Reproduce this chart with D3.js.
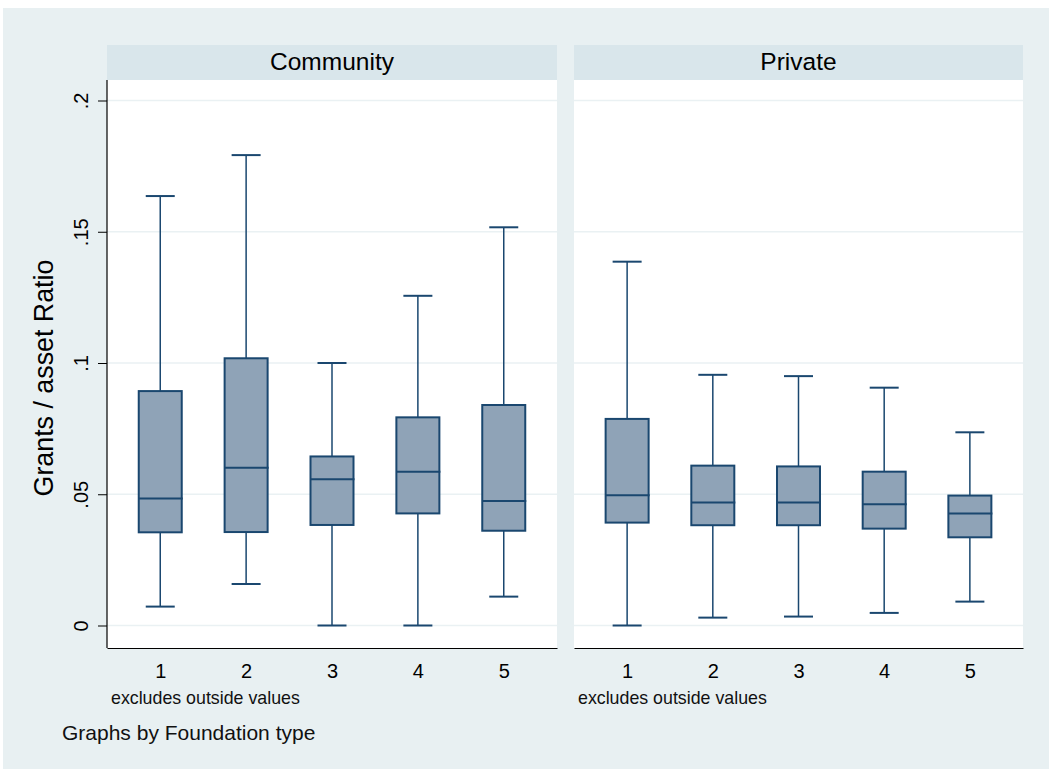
<!DOCTYPE html>
<html>
<head>
<meta charset="UTF-8">
<title>Grants / asset Ratio by Foundation type</title>
<style>
  body { margin: 0; background: #fff; }
  svg { display: block; font-family: "Liberation Sans", Arial, sans-serif; }
</style>
</head>
<body>
<svg id="chart"></svg>
<script src="https://cdn.jsdelivr.net/npm/d3@7"></script>
<script>
// data
const categories = [1, 2, 3, 4, 5];
const panelNames = ["Community", "Private"];
const yTicks = [0, 0.05, 0.1, 0.15, 0.2];
const yTickLabels = ["0", ".05", ".1", ".15", ".2"];

const communityHi = [0.1636, 0.1792, 0.1000, 0.1256, 0.1517];
const communityQ3 = [0.0893, 0.1018, 0.0644, 0.0793, 0.0840];
const communityMed = [0.0484, 0.0601, 0.0557, 0.0586, 0.0474];
const communityQ1 = [0.0355, 0.0356, 0.0383, 0.0427, 0.0361];
const communityLo = [0.0072, 0.0158, 0.0000, 0.0000, 0.0110];

const privateHi = [0.1386, 0.0955, 0.0950, 0.0906, 0.0736];
const privateQ3 = [0.0787, 0.0609, 0.0606, 0.0586, 0.0495];
const privateMed = [0.0496, 0.0469, 0.0469, 0.0462, 0.0427];
const privateQ1 = [0.0392, 0.0382, 0.0382, 0.0369, 0.0336];
const privateLo = [0.0000, 0.0030, 0.0034, 0.0048, 0.0091];

const width = 1049, height = 769;
const navy = "#1a476f", boxFill = "#8fa3b7", gridCol = "#eaf1f3";

const svg = d3.select("#chart").attr("width", width).attr("height", height);

// outer background
svg.append("rect").attr("x", 3).attr("y", 8).attr("width", width - 3).attr("height", height - 8)
  .attr("fill", "#e8f0f2");

const plotTop = 80, plotBottom = 648;
const y = d3.scaleLinear().domain([0, 0.2]).range([625.5, 100.5]);

const panels = [
  { name: panelNames[0], x0: 107, x1: 557, hi: communityHi, q3: communityQ3, med: communityMed, q1: communityQ1, lo: communityLo },
  { name: panelNames[1], x0: 574, x1: 1023, hi: privateHi, q3: privateQ3, med: privateMed, q1: privateQ1, lo: privateLo }
];

const boxW = 43, capW = 29;

panels.forEach((p, pi) => {
  const g = svg.append("g");
  const x = d3.scalePoint().domain(categories).range([p.x0, p.x1]).padding(0.62);

  // header strip
  g.append("rect").attr("x", p.x0).attr("y", 45).attr("width", p.x1 - p.x0).attr("height", 35)
    .attr("fill", "#d9e6eb");
  g.append("text").attr("x", (p.x0 + p.x1) / 2).attr("y", 70).attr("text-anchor", "middle")
    .attr("font-size", 24.5).attr("fill", "#000").text(p.name);

  // plot region
  g.append("rect").attr("x", p.x0).attr("y", plotTop).attr("width", p.x1 - p.x0).attr("height", plotBottom - plotTop)
    .attr("fill", "#fff");

  // grid
  g.append("g").selectAll("line").data(yTicks).join("line")
    .attr("x1", p.x0).attr("x2", p.x1)
    .attr("y1", d => y(d)).attr("y2", d => y(d))
    .attr("stroke", gridCol).attr("stroke-width", 1.5);

  const rows = categories.map((c, i) => ({ c, hi: p.hi[i], q3: p.q3[i], med: p.med[i], q1: p.q1[i], lo: p.lo[i] }));
  const bx = g.append("g").selectAll("g").data(rows).join("g");

  // whiskers
  bx.append("line").attr("x1", d => x(d.c)).attr("x2", d => x(d.c))
    .attr("y1", d => y(d.hi)).attr("y2", d => y(d.q3))
    .attr("stroke", navy).attr("stroke-width", 1.5);
  bx.append("line").attr("x1", d => x(d.c)).attr("x2", d => x(d.c))
    .attr("y1", d => y(d.q1)).attr("y2", d => y(d.lo))
    .attr("stroke", navy).attr("stroke-width", 1.5);
  // caps
  bx.append("line").attr("x1", d => x(d.c) - capW / 2).attr("x2", d => x(d.c) + capW / 2)
    .attr("y1", d => y(d.hi)).attr("y2", d => y(d.hi))
    .attr("stroke", navy).attr("stroke-width", 2);
  bx.append("line").attr("x1", d => x(d.c) - capW / 2).attr("x2", d => x(d.c) + capW / 2)
    .attr("y1", d => y(d.lo)).attr("y2", d => y(d.lo))
    .attr("stroke", navy).attr("stroke-width", 2);
  // box
  bx.append("rect").attr("x", d => x(d.c) - boxW / 2).attr("width", boxW)
    .attr("y", d => y(d.q3)).attr("height", d => y(d.q1) - y(d.q3))
    .attr("fill", boxFill).attr("stroke", navy).attr("stroke-width", 2);
  // median
  bx.append("line").attr("x1", d => x(d.c) - boxW / 2).attr("x2", d => x(d.c) + boxW / 2 + 1)
    .attr("y1", d => y(d.med)).attr("y2", d => y(d.med))
    .attr("stroke", navy).attr("stroke-width", 2);

  // x axis
  const xAxis = g.append("g").attr("transform", `translate(0,${plotBottom})`)
    .call(d3.axisBottom(x).tickSize(0).tickSizeOuter(0));
  xAxis.select(".domain").attr("stroke", "#000").attr("stroke-width", 1.2);
  xAxis.selectAll("text").attr("font-size", 20).attr("fill", "#000")
    .attr("font-family", "Liberation Sans, Arial, sans-serif")
    .attr("dy", null).attr("y", 29.5);

  g.append("text").attr("x", p.x0 + 4).attr("y", 703.5).attr("font-size", 17.8).attr("fill", "#111")
    .text("excludes outside values");

  // y axis only on first panel
  if (pi === 0) {
    const yAxis = g.append("g").attr("transform", `translate(${p.x0},0)`)
      .call(d3.axisLeft(y).tickValues(yTicks).tickSize(9).tickSizeOuter(0)
        .tickFormat((d, i) => yTickLabels[i]));
    yAxis.select(".domain").attr("d", `M0,${plotTop}V${plotBottom}`).attr("stroke", "#000").attr("stroke-width", 1.2);
    yAxis.selectAll(".tick line").attr("stroke", "#000");
    yAxis.selectAll("text")
      .attr("font-size", 20).attr("fill", "#000")
      .attr("font-family", "Liberation Sans, Arial, sans-serif")
      .attr("text-anchor", "middle").attr("x", null).attr("dy", null)
      .attr("transform", "translate(-19,0) rotate(-90)");
  }
});

// axis title
svg.append("text").attr("transform", "translate(53,378) rotate(-90)").attr("text-anchor", "middle")
  .attr("font-size", 26.8).attr("fill", "#000").text("Grants / asset Ratio");

svg.append("text").attr("x", 62).attr("y", 740).attr("font-size", 21).attr("fill", "#111")
  .text("Graphs by Foundation type");
</script>
</body>
</html>
